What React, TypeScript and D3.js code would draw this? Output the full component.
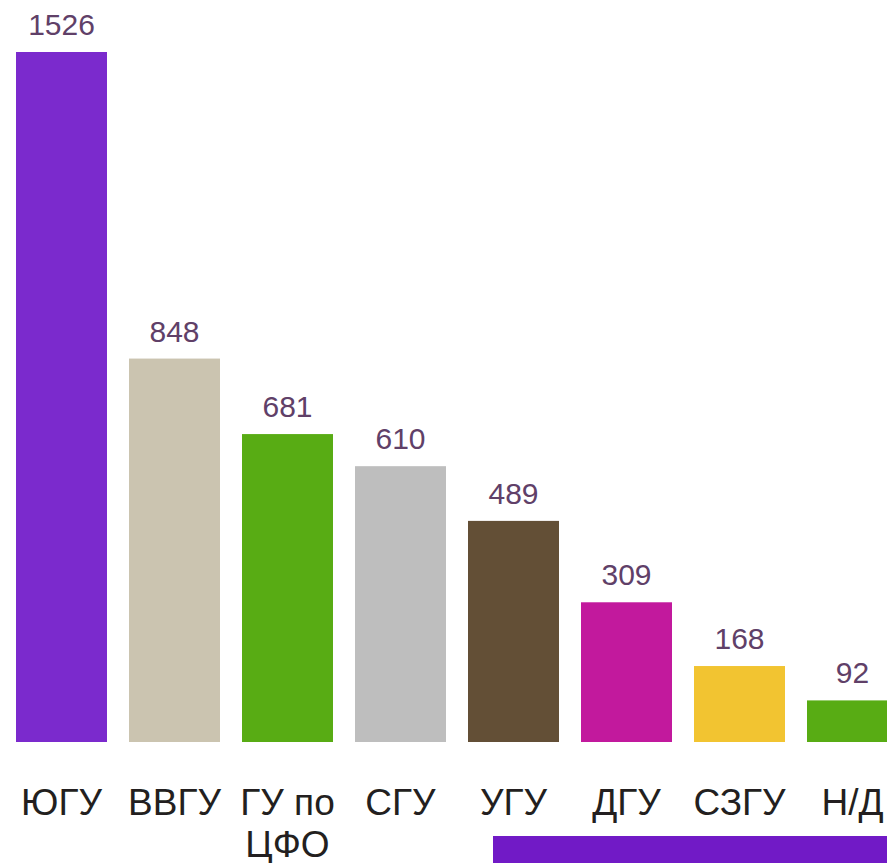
import React from "react";
import * as d3 from "d3";

const categories = ["ЮГУ", "ВВГУ", "ГУ по ЦФО", "СГУ", "УГУ", "ДГУ", "СЗГУ", "Н/Д"];
const categoryLines = [["ЮГУ"], ["ВВГУ"], ["ГУ по", "ЦФО"], ["СГУ"], ["УГУ"], ["ДГУ"], ["СЗГУ"], ["Н/Д"]];
const values = [1526, 848, 681, 610, 489, 309, 168, 92];
const colors = ["#7B2ACD", "#CBC4B0", "#58AC14", "#BEBEBE", "#634F36", "#C2199D", "#F2C431", "#58AC14"];

const W = 887;
const H = 863;

export default function App() {
  const x = d3
    .scaleBand<string>()
    .domain(categories)
    .range([16, 898])
    .paddingInner(22 / 113)
    .paddingOuter(0);
  const y = d3.scaleLinear().domain([0, 1526]).range([742, 52]);
  const font = "'Liberation Sans', Arial, sans-serif";

  return (
    <svg
      width={W}
      height={H}
      style={{ position: "absolute", left: 0, top: 0, display: "block", background: "#fff" }}
      fontFamily={font}
    >
      {categories.map((c, i) => {
        const bx = x(c)!;
        const bw = x.bandwidth();
        const cx = bx + bw / 2;
        return (
          <g key={c}>
            <rect x={bx} y={y(values[i])} width={bw} height={y(0) - y(values[i])} fill={colors[i]} />
            <text x={cx} y={y(values[i]) - 17} textAnchor="middle" fontSize={30} fill="#604068">
              {values[i]}
            </text>
            {categoryLines[i].map((ln, j) => (
              <text key={j} x={cx} y={815 + j * 42} textAnchor="middle" fontSize={37} fill="#231F20">
                {ln}
              </text>
            ))}
          </g>
        );
      })}
      <rect x={493} y={836} width={W - 493} height={H - 836} fill="#711AC6" />
    </svg>
  );
}
